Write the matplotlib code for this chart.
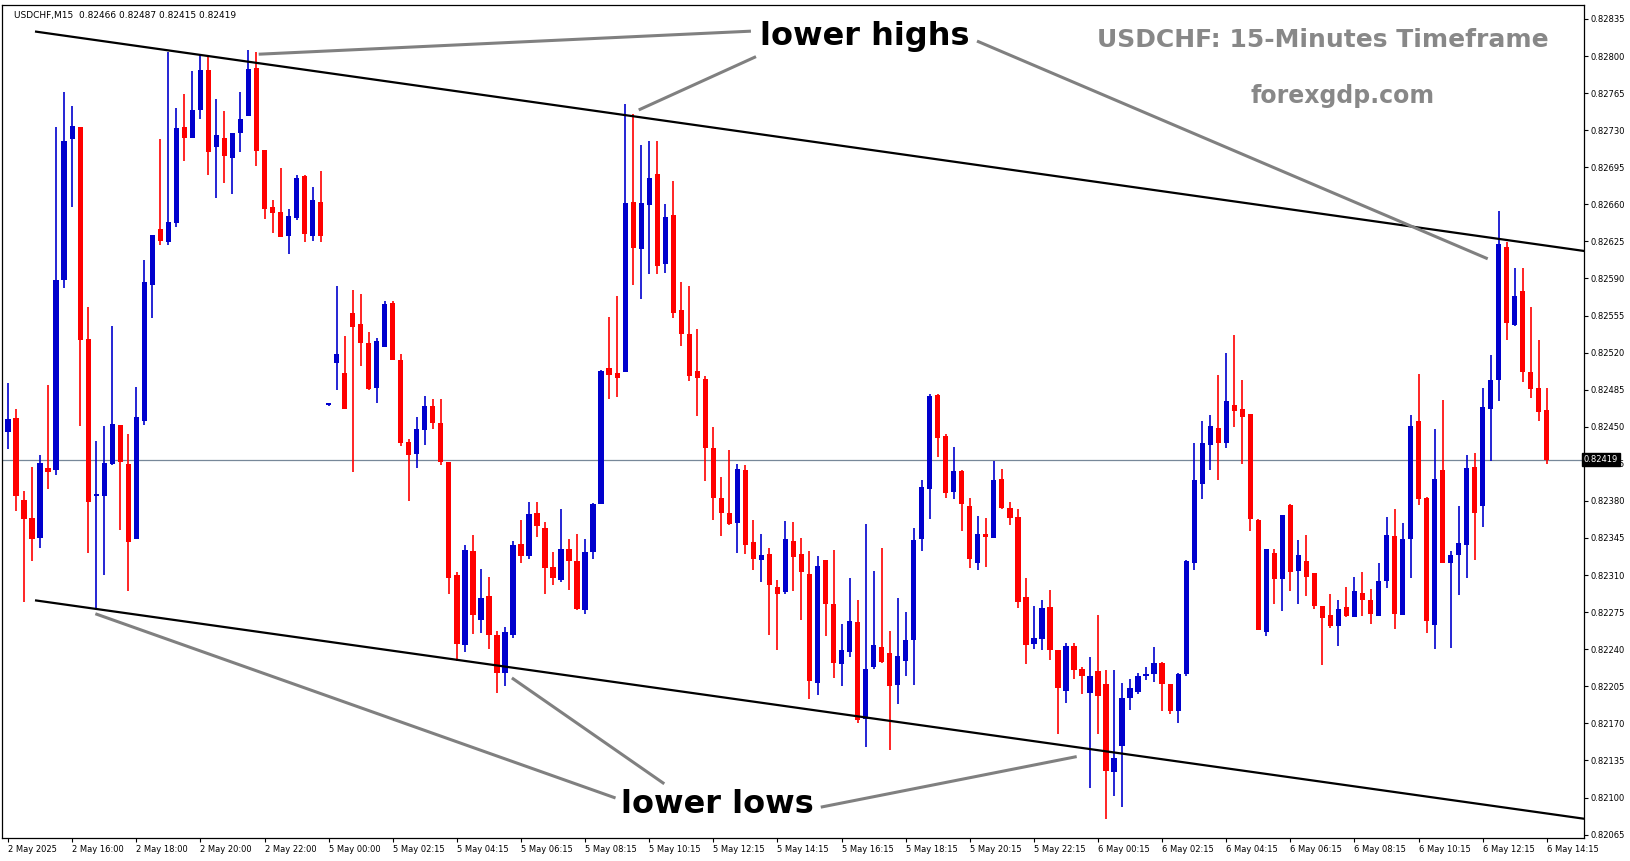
import numpy as np
import matplotlib
matplotlib.use("Agg")
import matplotlib.pyplot as plt

# USDCHF M15 candles, prices in points (1e-5)
open_pts = [82445, 82458, 82381, 82364, 82345, 82411, 82409, 82589, 82722, 82733,
            82533, 82385, 82385, 82415, 82452, 82415, 82344, 82455, 82584, 82637,
            82624, 82642, 82733, 82723, 82749, 82787, 82714, 82723, 82704, 82727,
            82743, 82789, 82711, 82657, 82653, 82630, 82647, 82687, 82630, 82662,
            82471, 82510, 82501, 82557, 82547, 82529, 82487, 82525, 82567, 82513,
            82436, 82424, 82447, 82470, 82454, 82417, 82310, 82244, 82333, 82268,
            82290, 82253, 82218, 82253, 82339, 82328, 82369, 82354, 82318, 82305,
            82335, 82323, 82277, 82332, 82377, 82505, 82501, 82502, 82662, 82618,
            82659, 82689, 82604, 82650, 82560, 82538, 82503, 82495, 82430, 82383,
            82369, 82359, 82409, 82341, 82324, 82330, 82299, 82294, 82342, 82330,
            82311, 82208, 82324, 82283, 82226, 82237, 82266, 82174, 82223, 82242,
            82236, 82206, 82229, 82249, 82344, 82391, 82480, 82441, 82388, 82408,
            82375, 82321, 82349, 82345, 82401, 82373, 82365, 82289, 82245, 82250,
            82280, 82239, 82201, 82243, 82221, 82199, 82219, 82207, 82124, 82149,
            82194, 82200, 82215, 82217, 82227, 82207, 82182, 82217, 82321, 82396,
            82433, 82449, 82435, 82471, 82467, 82462, 82362, 82256, 82331, 82306,
            82376, 82314, 82323, 82312, 82281, 82272, 82262, 82280, 82270, 82293,
            82286, 82271, 82304, 82347, 82272, 82344, 82455, 82383, 82263, 82409,
            82321, 82329, 82338, 82412, 82375, 82467, 82494, 82620, 82546, 82578,
            82502, 82487, 82466]
high_pts = [82491, 82467, 82389, 82412, 82423, 82489, 82733, 82766, 82753, 82733,
            82563, 82437, 82451, 82545, 82452, 82443, 82488, 82607, 82631, 82722,
            82804, 82751, 82764, 82786, 82801, 82800, 82759, 82748, 82727, 82766,
            82806, 82804, 82711, 82664, 82694, 82656, 82688, 82688, 82676, 82691,
            82472, 82583, 82536, 82579, 82575, 82539, 82534, 82569, 82569, 82519,
            82438, 82459, 82479, 82476, 82476, 82417, 82313, 82338, 82348, 82316,
            82308, 82257, 82261, 82342, 82362, 82379, 82379, 82360, 82332, 82372,
            82344, 82349, 82344, 82378, 82504, 82554, 82573, 82755, 82745, 82716,
            82720, 82720, 82660, 82682, 82587, 82583, 82542, 82498, 82450, 82403,
            82428, 82415, 82414, 82362, 82349, 82336, 82305, 82361, 82360, 82345,
            82333, 82328, 82324, 82334, 82264, 82307, 82286, 82358, 82314, 82336,
            82257, 82288, 82275, 82354, 82400, 82481, 82481, 82443, 82431, 82409,
            82383, 82366, 82364, 82418, 82410, 82379, 82372, 82307, 82281, 82286,
            82296, 82239, 82246, 82246, 82223, 82233, 82272, 82220, 82220, 82208,
            82212, 82218, 82223, 82242, 82228, 82207, 82218, 82324, 82435, 82455,
            82461, 82499, 82520, 82537, 82494, 82462, 82363, 82335, 82335, 82367,
            82377, 82343, 82348, 82312, 82281, 82292, 82286, 82299, 82308, 82313,
            82297, 82321, 82365, 82372, 82359, 82461, 82500, 82384, 82448, 82475,
            82333, 82375, 82423, 82425, 82487, 82518, 82654, 82624, 82600, 82600,
            82563, 82532, 82487]
low_pts = [82429, 82370, 82285, 82323, 82336, 82391, 82404, 82581, 82657, 82451,
           82331, 82279, 82310, 82414, 82353, 82295, 82344, 82452, 82553, 82622,
           82622, 82639, 82701, 82723, 82741, 82688, 82666, 82680, 82670, 82709,
           82743, 82696, 82646, 82633, 82629, 82613, 82645, 82624, 82625, 82624,
           82470, 82485, 82467, 82407, 82507, 82485, 82472, 82525, 82513, 82432,
           82380, 82411, 82433, 82448, 82414, 82292, 82229, 82237, 82254, 82255,
           82240, 82199, 82205, 82251, 82321, 82325, 82346, 82292, 82301, 82303,
           82296, 82277, 82273, 82325, 82377, 82476, 82478, 82502, 82584, 82571,
           82594, 82594, 82595, 82553, 82526, 82493, 82460, 82399, 82362, 82347,
           82357, 82331, 82330, 82315, 82303, 82253, 82239, 82292, 82295, 82268,
           82193, 82197, 82252, 82213, 82205, 82233, 82170, 82148, 82221, 82227,
           82145, 82188, 82215, 82206, 82333, 82363, 82421, 82383, 82382, 82352,
           82317, 82315, 82318, 82345, 82372, 82357, 82279, 82226, 82240, 82239,
           82230, 82160, 82189, 82212, 82198, 82109, 82160, 82080, 82101, 82091,
           82183, 82198, 82211, 82209, 82182, 82179, 82170, 82215, 82315, 82382,
           82409, 82400, 82430, 82450, 82415, 82352, 82258, 82252, 82283, 82276,
           82295, 82283, 82290, 82278, 82225, 82260, 82243, 82270, 82270, 82271,
           82264, 82271, 82298, 82259, 82272, 82307, 82376, 82255, 82240, 82321,
           82241, 82291, 82307, 82324, 82355, 82418, 82474, 82532, 82545, 82492,
           82477, 82455, 82415]
close_pts = [82457, 82385, 82363, 82344, 82416, 82407, 82589, 82720, 82734, 82532,
             82379, 82386, 82416, 82453, 82417, 82341, 82459, 82587, 82631, 82625,
             82643, 82732, 82723, 82749, 82787, 82709, 82725, 82706, 82727, 82741,
             82788, 82710, 82656, 82652, 82629, 82649, 82685, 82632, 82664, 82630,
             82471, 82519, 82467, 82544, 82529, 82486, 82531, 82566, 82513, 82435,
             82423, 82448, 82470, 82454, 82417, 82307, 82245, 82334, 82272, 82288,
             82253, 82218, 82256, 82338, 82328, 82368, 82356, 82317, 82307, 82335,
             82323, 82278, 82332, 82377, 82503, 82499, 82496, 82661, 82619, 82661,
             82685, 82602, 82648, 82557, 82538, 82498, 82496, 82430, 82383, 82369,
             82358, 82410, 82338, 82325, 82329, 82301, 82292, 82344, 82327, 82313,
             82210, 82319, 82283, 82227, 82239, 82267, 82173, 82221, 82244, 82228,
             82205, 82234, 82249, 82343, 82393, 82479, 82439, 82387, 82408, 82377,
             82325, 82349, 82346, 82400, 82373, 82364, 82285, 82244, 82251, 82279,
             82239, 82203, 82243, 82220, 82215, 82215, 82196, 82125, 82137, 82194,
             82203, 82215, 82217, 82227, 82207, 82182, 82217, 82323, 82400, 82435,
             82451, 82435, 82474, 82465, 82459, 82363, 82258, 82335, 82306, 82367,
             82313, 82329, 82308, 82281, 82269, 82262, 82278, 82271, 82295, 82286,
             82273, 82304, 82348, 82273, 82344, 82451, 82382, 82267, 82401, 82321,
             82329, 82340, 82411, 82369, 82469, 82494, 82623, 82548, 82573, 82502,
             82486, 82464, 82419]

time_labels = ["2 May 2025", "2 May 16:00", "2 May 18:00", "2 May 20:00", "2 May 22:00",
               "5 May 00:00", "5 May 02:15", "5 May 04:15", "5 May 06:15", "5 May 08:15",
               "5 May 10:15", "5 May 12:15", "5 May 14:15", "5 May 16:15", "5 May 18:15",
               "5 May 20:15", "5 May 22:15", "6 May 00:15", "6 May 02:15", "6 May 04:15",
               "6 May 06:15", "6 May 08:15", "6 May 10:15", "6 May 12:15", "6 May 14:15"]
price_ticks = [0.82065 + 0.00035 * k for k in range(23)]
last_price = 0.82419

# channel lines: (candle index, price)
upper_line = [(3.5, 0.82823), (196.6, 0.82616)]
lower_line = [(3.5, 0.82286), (196.6, 0.82080)]

o = np.array(open_pts) / 1e5
h = np.array(high_pts) / 1e5
l = np.array(low_pts) / 1e5
c = np.array(close_pts) / 1e5
idx = np.arange(len(o))

fig = plt.figure(figsize=(16.31, 8.61), dpi=100)
ax = fig.add_axes([0.001, 0.027, 0.970, 0.967])
ax.set_xlim(-0.8, 196.6)
ax.set_ylim(0.82062, 0.82848)

bull = c >= o
colors = np.where(bull, '#0000CD', '#FF0000')
ax.vlines(idx, l, h, colors=colors, linewidth=1.2, zorder=2)
body_lo = np.minimum(o, c)
body_h = np.maximum(np.abs(c - o), 0.000012)
ax.bar(idx, body_h, bottom=body_lo, width=0.66, color=colors, zorder=3)

ax.axhline(last_price, color='#778899', linewidth=0.9, zorder=1)

for line in (upper_line, lower_line):
    xs, ys = zip(*line)
    ax.plot(xs, ys, color='black', linewidth=1.6, zorder=4, clip_on=True)

ax.yaxis.tick_right()
ax.set_yticks(price_ticks)
ax.set_yticklabels([f"{v:.5f}" for v in price_ticks], fontsize=6)
ax.set_xticks(idx[::8])
ax.set_xticklabels(time_labels, fontsize=6, ha='left')
ax.tick_params(length=3, width=0.8, pad=2)
for s in ax.spines.values():
    s.set_linewidth(0.9)

ax.text(1.0, last_price, f"{last_price:.5f}", transform=ax.get_yaxis_transform(),
        fontsize=6, color='white', va='center', ha='left', clip_on=False,
        bbox=dict(boxstyle='square,pad=0.25', fc='black', ec='black'), zorder=10)

ax.text(0.008, 0.993, "USDCHF,M15  0.82466 0.82487 0.82415 0.82419", transform=ax.transAxes,
        fontsize=6.5, va='top', ha='left')

# annotations in figure pixels (top-left origin, reference scale)
W, H = 1567, 827
def fp(x, y):
    return (x / W, 1 - y / H)

fig.text(*fp(831, 35), "lower highs", fontsize=23, fontweight='bold', ha='center', va='center')
fig.text(*fp(689, 773), "lower lows", fontsize=23, fontweight='bold', ha='center', va='center')
fig.text(*fp(1271, 38), "USDCHF: 15-Minutes Timeframe", fontsize=18, fontweight='bold',
         color='#888888', ha='center', va='center')
fig.text(*fp(1290, 92), "forexgdp.com", fontsize=17, fontweight='bold',
         color='#888888', ha='center', va='center')

pointers = [((250, 52), (720, 30)), ((615, 105), (725, 55)), ((940, 40), (1428, 248)),
            ((93, 590), (590, 766)), ((493, 652), (637, 752)), ((790, 775), (1033, 727))]
for p1, p2 in pointers:
    a, b = fp(*p1), fp(*p2)
    fig.add_artist(plt.Line2D([a[0], b[0]], [a[1], b[1]], color='#808080', linewidth=2.2))

fig.savefig("out.png", dpi=100)
